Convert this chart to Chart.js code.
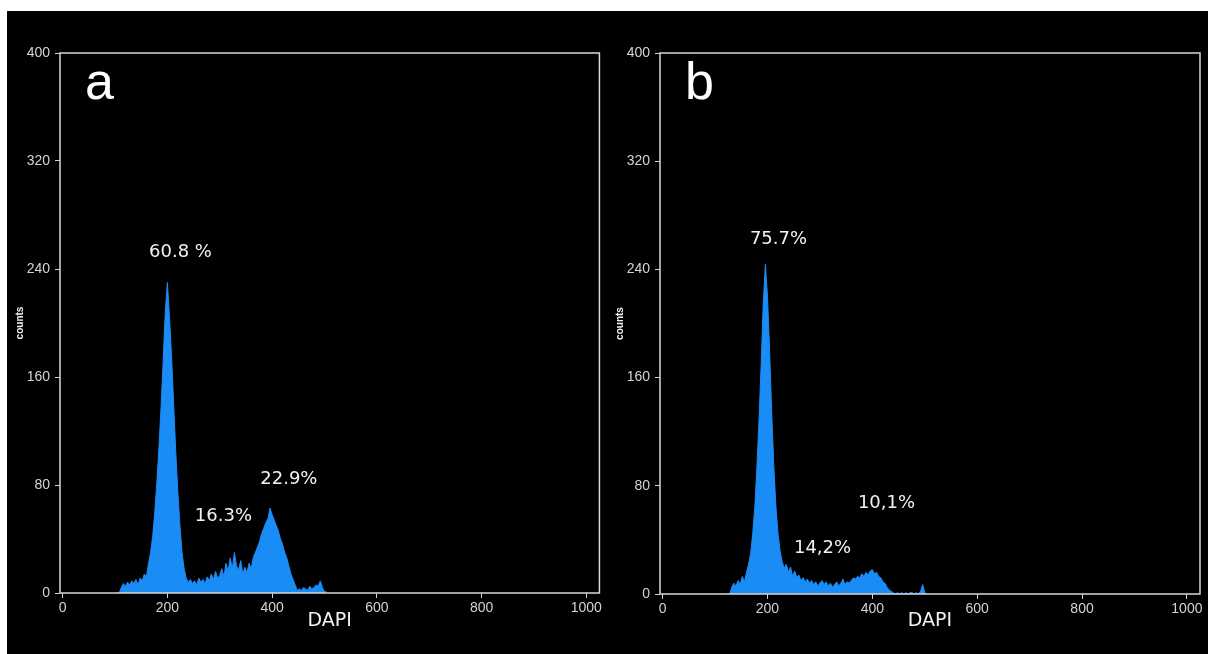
<!DOCTYPE html>
<html>
<head>
<meta charset="utf-8">
<script src="https://cdn.jsdelivr.net/npm/chart.js@4.4.1/dist/chart.umd.min.js"></script>
<style>
  body { margin: 0; background: #fff; width: 1208px; height: 654px; overflow: hidden; }
  #stage { position: absolute; left: 7px; top: 11px; width: 1201px; height: 643px; background: #000; }
  #chartA { position: absolute; left: 0; top: 0; }
  #chartB { position: absolute; left: 597px; top: 0; }
</style>
</head>
<body>
<div id="stage">
  <canvas id="chartA" width="597" height="643"></canvas>
  <canvas id="chartB" width="604" height="643"></canvas>
</div>
<script>
// DAPI histogram data, 4-channel bins
const binWidth = 4;

const startA = 104;
const countsA = [
  0, 0, 4, 7, 5, 8, 6, 9, 7, 10, 6, 11, 9, 14, 12,          // 104-160
  22, 30, 42, 60, 82, 108, 138, 172, 208, 230,               // 164-200
  205, 175, 140, 105, 75, 50, 30, 18, 11, 8,                 // 204-240
  10, 7, 9, 6, 11, 8, 10, 7, 12, 9, 14, 10, 16, 11, 13,      // 244-300
  18, 12, 22, 16, 26, 18, 30, 20, 17, 24, 14, 19, 15, 22, 18, // 304-360
  26, 30, 34, 38, 44, 48, 52, 55, 63,                        // 364-396
  58, 54, 50, 46, 40, 36, 30, 26, 20, 14, 10, 6, 2,          // 400-448
  3, 2, 4, 3, 2, 5, 3, 4, 6, 5, 9, 4, 1, 1                   // 452-504
];

const startB = 120;
const countsB = [
  0, 0, 0, 5, 8, 6, 10, 7, 13, 9, 16,                        // 120-160
  22, 30, 45, 65, 95, 130, 170, 215, 244,                    // 164-196
  220, 180, 135, 95, 65, 45, 32, 24, 19, 22,                 // 200-236
  16, 20, 13, 17, 12, 14, 10, 12, 9, 11, 8, 10, 7, 9, 6,     // 240-296
  8, 10, 7, 9, 6, 8, 5, 7, 9, 6, 8, 11, 7, 9, 8,             // 300-356
  10, 12, 11, 13, 12, 15, 13, 16, 14, 17,                    // 360-396
  18, 15, 16, 13, 12, 9, 8, 5, 3, 2, 1,                      // 400-440
  0, 1, 0, 1, 0, 1, 0, 1, 1, 0, 1, 0, 2, 7, 1, 0             // 444-504
];

const xTickValues = [0, 200, 400, 600, 800, 1000];
const yStep = 80;
const yMax = 400;

const panelLetters = ["a", "b"];
const peakLabelsA = ["60.8 %", "16.3%", "22.9%"];
const peakLabelsB = ["75.7%", "14,2%", "10,1%"];

// where the percent labels sit, in data units (DAPI, counts)
const anchorsA = [[225, 252], [307, 57], [432, 84]];
const anchorsB = [[221, 262], [305, 34], [427, 67]];

const frame = {
  id: "frame",
  afterDatasetsDraw(chart) {
    const { ctx, chartArea: a } = chart;
    ctx.save();
    ctx.strokeStyle = "#d8d8d8";
    ctx.lineWidth = 1.5;
    ctx.strokeRect(a.left, a.top, a.right - a.left, a.bottom - a.top);
    ctx.restore();
  }
};

const notes = {
  id: "notes",
  afterDraw(chart, args, opts) {
    const { ctx, chartArea: a, scales } = chart;
    ctx.save();
    ctx.fillStyle = "#f2f2f2";
    ctx.textAlign = "center";
    ctx.textBaseline = "middle";
    ctx.font = "18px 'DejaVu Sans'";
    opts.labels.forEach((t, i) => {
      const [vx, vy] = opts.anchors[i];
      ctx.fillText(t, scales.x.getPixelForValue(vx), scales.y.getPixelForValue(vy));
    });
    ctx.font = "52px 'Liberation Sans'";
    ctx.fillStyle = "#ffffff";
    ctx.textAlign = "left";
    ctx.textBaseline = "alphabetic";
    ctx.fillText(opts.letter, a.left + 25, a.top + 46);
    ctx.restore();
  }
};

function makeChart(id, start, counts, letter, labels, anchors, yWidth, xHeight, rightPad, titlePad) {
  const points = counts.map((c, i) => ({ x: start + i * binWidth, y: c }));
  const tickFont = { family: "Liberation Sans", size: 14 };

  return new Chart(document.getElementById(id), {
    type: "line",
    data: {
      datasets: [{
        data: points,
        fill: "origin",
        backgroundColor: "#1a8cf6",
        borderColor: "#1a8cf6",
        borderWidth: 1,
        pointRadius: 0,
        tension: 0
      }]
    },
    options: {
      responsive: false,
      animation: false,
      layout: { padding: { top: 42, right: rightPad, left: 0, bottom: 0 } },
      plugins: {
        legend: { display: false },
        tooltip: { enabled: false },
        notes: { letter, labels, anchors }
      },
      scales: {
        x: {
          type: "linear",
          min: -5,
          max: 1025,
          afterBuildTicks: s => { s.ticks = xTickValues.map(v => ({ value: v })); },
          afterFit: s => { s.height = xHeight; },
          grid: { drawOnChartArea: false, tickLength: 5, tickColor: "#d4d4d4" },
          border: { display: false },
          ticks: {
            color: "#d4d4d4", font: tickFont, padding: 2, maxRotation: 0, autoSkip: false,
            callback: v => String(v)
          },
          title: {
            display: true, text: "DAPI", color: "#f2f2f2",
            font: { family: "DejaVu Sans", size: 19 },
            padding: { top: 0, bottom: 22 }
          }
        },
        y: {
          min: 0,
          max: yMax,
          afterFit: s => { s.width = yWidth; },
          grid: { drawOnChartArea: false, tickLength: 5, tickColor: "#d4d4d4" },
          border: { display: false },
          ticks: { stepSize: yStep, color: "#d4d4d4", font: tickFont, padding: 5 },
          title: {
            display: true, text: "counts", color: "#f0f0f0",
            font: { family: "Liberation Sans", size: 10, weight: "bold" },
            padding: { top: titlePad, bottom: 0 }
          }
        }
      }
    },
    plugins: [frame, notes]
  });
}

makeChart("chartA", startA, countsA, panelLetters[0], peakLabelsA, anchorsA, 53, 61, 4, 7);
makeChart("chartB", startB, countsB, panelLetters[1], peakLabelsB, anchorsB, 56, 60, 8, 10);
</script>
</body>
</html>
